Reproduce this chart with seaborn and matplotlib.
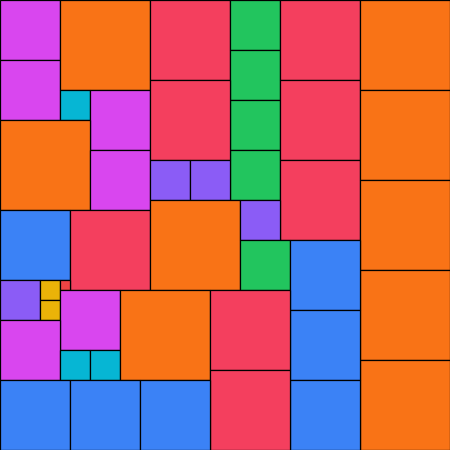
import matplotlib
matplotlib.use("Agg")
import matplotlib.pyplot as plt
from matplotlib.patches import Rectangle
import seaborn as sns

sns.set_theme(style="white")

# square packing: left x, top y, side length (all in canvas units)
xs = [0, 0, 60, 60, 90, 0, 90, 150, 230, 230, 230, 230, 280, 280, 280, 150,
      150, 190, 360, 360, 360, 360, 360, 0, 70, 150, 240, 240, 290, 290, 290,
      0, 40, 40, 60, 60, 0, 60, 90, 120, 210, 210, 0, 70, 140]
ys = [0, 60, 0, 90, 90, 120, 150, 0, 0, 50, 100, 150, 0, 80, 160, 80,
      160, 160, 0, 90, 180, 270, 360, 210, 210, 200, 200, 240, 240, 310, 380,
      280, 280, 300, 280, 290, 320, 350, 350, 290, 290, 370, 380, 380, 380]
sizes = [60, 60, 90, 30, 60, 90, 60, 80, 50, 50, 50, 50, 80, 80, 80, 80,
         40, 40, 90, 90, 90, 90, 90, 70, 80, 90, 40, 50, 70, 70, 70,
         40, 20, 20, 10, 60, 60, 30, 30, 90, 80, 80, 70, 70, 70]

size_levels = [90, 80, 70, 60, 50, 40, 30, 20, 10]
level_colors = ["#f97316", "#f43f5e", "#3b82f6", "#d946ef", "#22c55e",
                "#8b5cf6", "#06b6d4", "#eab308", "#ef4444"]
palette = dict(zip(size_levels, sns.color_palette(level_colors)))

fig = plt.figure(figsize=(4.5, 4.5), dpi=100)
ax = fig.add_axes([0, 0, 1, 1])
for x, y, s in zip(xs, ys, sizes):
    ax.add_patch(Rectangle((x, y), s, s, facecolor=palette[s],
                           edgecolor="black", linewidth=0.9))
ax.set_xlim(0, 450)
ax.set_ylim(450, 0)
ax.set_axis_off()
fig.savefig("out.png", dpi=100)
